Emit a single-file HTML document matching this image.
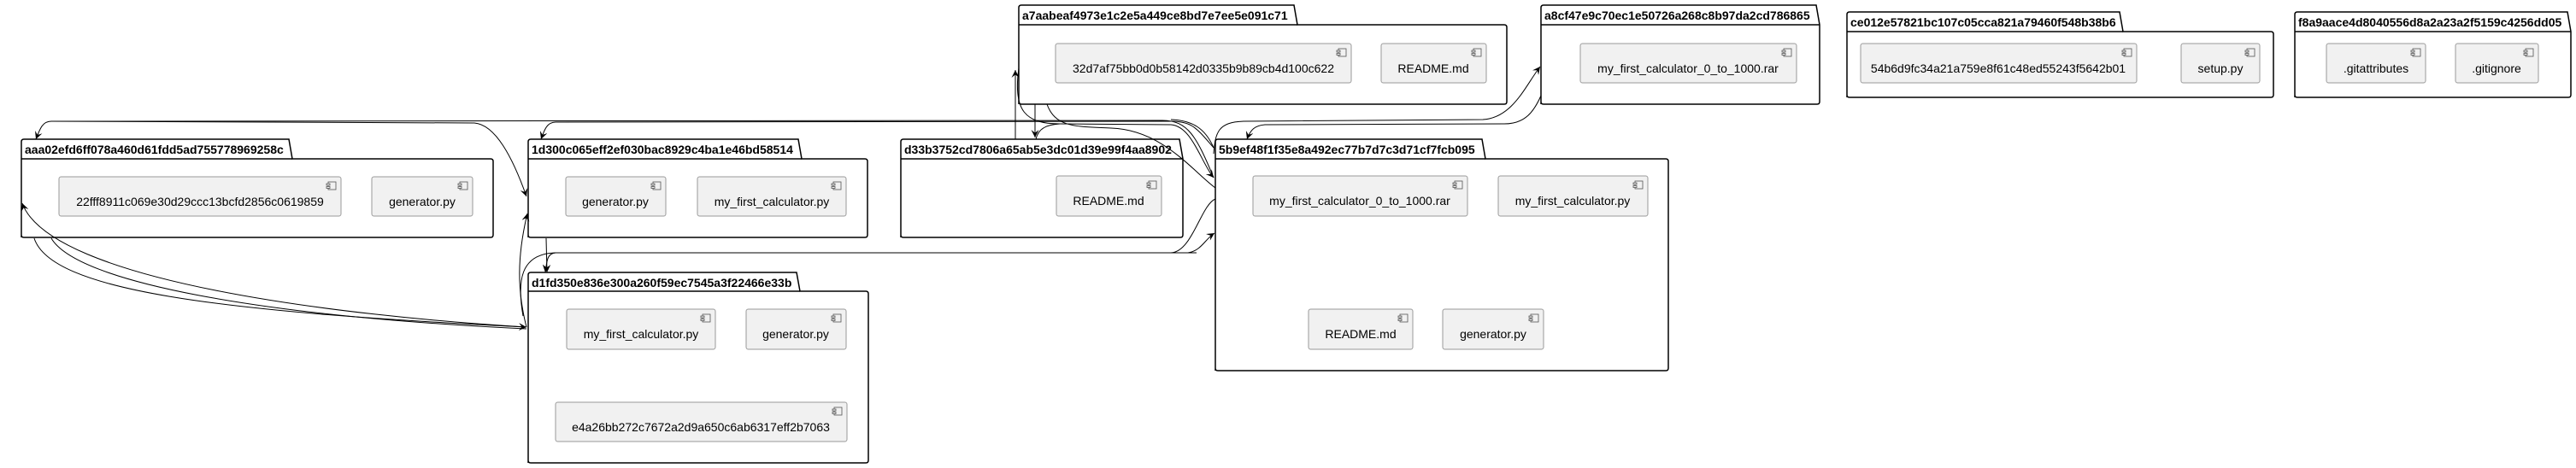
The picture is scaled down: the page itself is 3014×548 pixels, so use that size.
<!DOCTYPE html>
<html><head><meta charset="utf-8"><style>
html,body{margin:0;padding:0;background:#fff;}
svg{display:block;}
.t{font-family:"Liberation Sans",sans-serif;font-size:14px;font-weight:bold;fill:#000;}
.c{font-family:"Liberation Sans",sans-serif;font-size:14px;fill:#000;text-anchor:middle;}
.pk{fill:#fff;stroke:#000;stroke-width:1.5;}
.cm{fill:#f1f1f1;stroke:#999;stroke-width:1;}
.ic{fill:#f1f1f1;stroke:#555;stroke-width:0.8;}
.e{fill:none;stroke:#000;stroke-width:1;}
</style></head><body>
<svg width="3014" height="548" viewBox="0 0 3014 548" xmlns="http://www.w3.org/2000/svg">
<defs>
<marker id="a" viewBox="0 0 10 10" refX="10" refY="5" markerWidth="9" markerHeight="9" orient="auto" markerUnits="userSpaceOnUse">
<path d="M0,0 L10,5 L0,10 L4,5 Z" fill="#000"/>
</marker>
</defs>

<!-- packages -->
<g id="pkgs">
<!-- aaa -->
<path class="pk" d="M25,278 L25,166 Q25,163 28,163 L338,163 L342,186 L574,186 Q577,186 577,189 L577,275 Q577,278 574,278 L28,278 Q25,278 25,275 Z"/>
<line class="pk" x1="25" y1="186" x2="342" y2="186"/>
<text class="t" x="29" y="180">aaa02efd6ff078a460d61fdd5ad755778969258c</text>
<!-- 1d300 -->
<path class="pk" d="M618,278 L618,166 Q618,163 621,163 L934,163 L938,186 L1012,186 Q1015,186 1015,189 L1015,275 Q1015,278 1012,278 L621,278 Q618,278 618,275 Z"/>
<line class="pk" x1="618" y1="186" x2="938" y2="186"/>
<text class="t" x="622" y="180">1d300c065eff2ef030bac8929c4ba1e46bd58514</text>
<!-- d1fd -->
<path class="pk" d="M618,542 L618,322 Q618,319 621,319 L932,319 L936,341 L1013,341 Q1016,341 1016,344 L1016,539 Q1016,542 1013,542 L621,542 Q618,542 618,539 Z"/>
<line class="pk" x1="618" y1="341" x2="936" y2="341"/>
<text class="t" x="622" y="336">d1fd350e836e300a260f59ec7545a3f22466e33b</text>
<!-- a7aa -->
<path class="pk" d="M1192,122 L1192,9 Q1192,6 1195,6 L1514,6 L1518,29 L1760,29 Q1763,29 1763,32 L1763,119 Q1763,122 1760,122 L1195,122 Q1192,122 1192,119 Z"/>
<line class="pk" x1="1192" y1="29" x2="1518" y2="29"/>
<text class="t" x="1196" y="23">a7aabeaf4973e1c2e5a449ce8bd7e7ee5e091c71</text>
<!-- a8cf -->
<path class="pk" d="M1803,122 L1803,9 Q1803,6 1806,6 L2125,6 L2129,29 L2129,119 Q2129,122 2126,122 L1806,122 Q1803,122 1803,119 Z"/>
<line class="pk" x1="1803" y1="29" x2="2129" y2="29"/>
<text class="t" x="1807" y="23">a8cf47e9c70ec1e50726a268c8b97da2cd786865</text>
<!-- ce01 -->
<path class="pk" d="M2161,114 L2161,17 Q2161,14 2164,14 L2480,14 L2484,37 L2657,37 Q2660,37 2660,40 L2660,111 Q2660,114 2657,114 L2164,114 Q2161,114 2161,111 Z"/>
<line class="pk" x1="2161" y1="37" x2="2484" y2="37"/>
<text class="t" x="2165" y="31">ce012e57821bc107c05cca821a79460f548b38b6</text>
<!-- f8a9 -->
<path class="pk" d="M2685,114 L2685,17 Q2685,14 2688,14 L3004,14 L3008,37 L3008,111 Q3008,114 3005,114 L2688,114 Q2685,114 2685,111 Z"/>
<line class="pk" x1="2685" y1="37" x2="3008" y2="37"/>
<text class="t" x="2689" y="31">f8a9aace4d8040556d8a2a23a2f5159c4256dd05</text>
<!-- d33b -->
<path class="pk" d="M1054,278 L1054,166 Q1054,163 1057,163 L1380,163 L1384,186 L1384,275 Q1384,278 1381,278 L1057,278 Q1054,278 1054,275 Z"/>
<line class="pk" x1="1054" y1="186" x2="1384" y2="186"/>
<text class="t" x="1058" y="180">d33b3752cd7806a65ab5e3dc01d39e99f4aa8902</text>
<!-- 5b9e -->
<path class="pk" d="M1422,434 L1422,166 Q1422,163 1425,163 L1734,163 L1738,186 L1949,186 Q1952,186 1952,189 L1952,431 Q1952,434 1949,434 L1425,434 Q1422,434 1422,431 Z"/>
<line class="pk" x1="1422" y1="186" x2="1738" y2="186"/>
<text class="t" x="1426" y="180">5b9ef48f1f35e8a492ec77b7d7c3d71cf7fcb095</text>
</g>

<!-- components -->
<g id="comps">
<!-- helper pattern: rect + icon + text -->
<g><rect class="cm" x="69" y="207" width="330" height="46" rx="2.5"/><rect class="ic" x="384" y="213" width="9" height="9"/><rect class="ic" x="382" y="215" width="4" height="2"/><rect class="ic" x="382" y="218.5" width="4" height="2"/><text class="c" x="234" y="241">22fff8911c069e30d29ccc13bcfd2856c0619859</text></g>
<g><rect class="cm" x="435" y="207" width="118" height="46" rx="2.5"/><rect class="ic" x="538" y="213" width="9" height="9"/><rect class="ic" x="536" y="215" width="4" height="2"/><rect class="ic" x="536" y="218.5" width="4" height="2"/><text class="c" x="494" y="241">generator.py</text></g>

<g><rect class="cm" x="662" y="207" width="117" height="46" rx="2.5"/><rect class="ic" x="764" y="213" width="9" height="9"/><rect class="ic" x="762" y="215" width="4" height="2"/><rect class="ic" x="762" y="218.5" width="4" height="2"/><text class="c" x="720" y="241">generator.py</text></g>
<g><rect class="cm" x="816" y="207" width="174" height="46" rx="2.5"/><rect class="ic" x="975" y="213" width="9" height="9"/><rect class="ic" x="973" y="215" width="4" height="2"/><rect class="ic" x="973" y="218.5" width="4" height="2"/><text class="c" x="903" y="241">my_first_calculator.py</text></g>

<g><rect class="cm" x="663" y="362" width="174" height="47" rx="2.5"/><rect class="ic" x="822" y="368" width="9" height="9"/><rect class="ic" x="820" y="370" width="4" height="2"/><rect class="ic" x="820" y="373.5" width="4" height="2"/><text class="c" x="750" y="396">my_first_calculator.py</text></g>
<g><rect class="cm" x="873" y="362" width="117" height="47" rx="2.5"/><rect class="ic" x="975" y="368" width="9" height="9"/><rect class="ic" x="973" y="370" width="4" height="2"/><rect class="ic" x="973" y="373.5" width="4" height="2"/><text class="c" x="931" y="396">generator.py</text></g>
<g><rect class="cm" x="650" y="471" width="341" height="46" rx="2.5"/><rect class="ic" x="976" y="477" width="9" height="9"/><rect class="ic" x="974" y="479" width="4" height="2"/><rect class="ic" x="974" y="482.5" width="4" height="2"/><text class="c" x="820" y="505">e4a26bb272c7672a2d9a650c6ab6317eff2b7063</text></g>

<g><rect class="cm" x="1235" y="51" width="346" height="46" rx="2.5"/><rect class="ic" x="1566" y="57" width="9" height="9"/><rect class="ic" x="1564" y="59" width="4" height="2"/><rect class="ic" x="1564" y="62.5" width="4" height="2"/><text class="c" x="1408" y="85">32d7af75bb0d0b58142d0335b9b89cb4d100c622</text></g>
<g><rect class="cm" x="1616" y="51" width="123" height="46" rx="2.5"/><rect class="ic" x="1724" y="57" width="9" height="9"/><rect class="ic" x="1722" y="59" width="4" height="2"/><rect class="ic" x="1722" y="62.5" width="4" height="2"/><text class="c" x="1677" y="85">README.md</text></g>

<g><rect class="cm" x="1849" y="51" width="253" height="46" rx="2.5"/><rect class="ic" x="2087" y="57" width="9" height="9"/><rect class="ic" x="2085" y="59" width="4" height="2"/><rect class="ic" x="2085" y="62.5" width="4" height="2"/><text class="c" x="1975" y="85">my_first_calculator_0_to_1000.rar</text></g>

<g><rect class="cm" x="2177" y="51" width="323" height="46" rx="2.5"/><rect class="ic" x="2485" y="57" width="9" height="9"/><rect class="ic" x="2483" y="59" width="4" height="2"/><rect class="ic" x="2483" y="62.5" width="4" height="2"/><text class="c" x="2338" y="85">54b6d9fc34a21a759e8f61c48ed55243f5642b01</text></g>
<g><rect class="cm" x="2552" y="51" width="92" height="46" rx="2.5"/><rect class="ic" x="2629" y="57" width="9" height="9"/><rect class="ic" x="2627" y="59" width="4" height="2"/><rect class="ic" x="2627" y="62.5" width="4" height="2"/><text class="c" x="2598" y="85">setup.py</text></g>

<g><rect class="cm" x="2722" y="51" width="116" height="46" rx="2.5"/><rect class="ic" x="2823" y="57" width="9" height="9"/><rect class="ic" x="2821" y="59" width="4" height="2"/><rect class="ic" x="2821" y="62.5" width="4" height="2"/><text class="c" x="2780" y="85">.gitattributes</text></g>
<g><rect class="cm" x="2873" y="51" width="97" height="46" rx="2.5"/><rect class="ic" x="2955" y="57" width="9" height="9"/><rect class="ic" x="2953" y="59" width="4" height="2"/><rect class="ic" x="2953" y="62.5" width="4" height="2"/><text class="c" x="2921" y="85">.gitignore</text></g>

<g><rect class="cm" x="1236" y="206" width="123" height="47" rx="2.5"/><rect class="ic" x="1344" y="212" width="9" height="9"/><rect class="ic" x="1342" y="214" width="4" height="2"/><rect class="ic" x="1342" y="217.5" width="4" height="2"/><text class="c" x="1297" y="240">README.md</text></g>

<g><rect class="cm" x="1466" y="206" width="251" height="47" rx="2.5"/><rect class="ic" x="1702" y="212" width="9" height="9"/><rect class="ic" x="1700" y="214" width="4" height="2"/><rect class="ic" x="1700" y="217.5" width="4" height="2"/><text class="c" x="1591" y="240">my_first_calculator_0_to_1000.rar</text></g>
<g><rect class="cm" x="1753" y="206" width="175" height="47" rx="2.5"/><rect class="ic" x="1913" y="212" width="9" height="9"/><rect class="ic" x="1911" y="214" width="4" height="2"/><rect class="ic" x="1911" y="217.5" width="4" height="2"/><text class="c" x="1840" y="240">my_first_calculator.py</text></g>
<g><rect class="cm" x="1531" y="362" width="122" height="47" rx="2.5"/><rect class="ic" x="1638" y="368" width="9" height="9"/><rect class="ic" x="1636" y="370" width="4" height="2"/><rect class="ic" x="1636" y="373.5" width="4" height="2"/><text class="c" x="1592" y="396">README.md</text></g>
<g><rect class="cm" x="1688" y="362" width="118" height="47" rx="2.5"/><rect class="ic" x="1791" y="368" width="9" height="9"/><rect class="ic" x="1789" y="370" width="4" height="2"/><rect class="ic" x="1789" y="373.5" width="4" height="2"/><text class="c" x="1747" y="396">generator.py</text></g>
</g>

<!-- edges -->
<g>
<!-- long top line into aaa -->
<path class="e" d="M1420,208 C1400,160 1390,141 1360,141 L60,142 C50,142 47,150 42,163" marker-end="url(#a)"/>
<!-- into 1d300 tab -->
<path class="e" d="M1420,173 C1400,150 1395,142 1370,142 L650,143 C640,143 637,152 633,163" marker-end="url(#a)"/>
<!-- aaa top to 1d300 left -->
<path class="e" d="M60,142 L555,144 C580,146 600,185 616,230" marker-end="url(#a)"/>
<!-- aaa bottom to d1fd left (two) -->
<path class="e" d="M40,279 C60,340 250,365 616,383" marker-end="url(#a)"/>
<path class="e" d="M60,279 C90,330 300,370 616,385"/>
<!-- d1fd left back to aaa left -->
<path class="e" d="M616,383 C400,370 60,330 26,238" marker-end="url(#a)"/>
<!-- 1d300 bottom to d1fd tab -->
<path class="e" d="M639,279 L640,319" marker-end="url(#a)"/>
<!-- d1fd left up to 1d300 left -->
<path class="e" d="M616,383 C605,340 605,300 617,250" marker-end="url(#a)"/>
<!-- bottom lines from d1fd top to 5b9e -->
<path class="e" d="M612,370 C605,330 608,297 650,296 L1370,296 C1395,295 1405,240 1422,233"/>
<path class="e" d="M1370,296 L1390,296 C1405,294 1410,280 1421,273" marker-end="url(#a)"/>
<path class="e" d="M1400,296 L650,296 C640,297 640,305 638,319" marker-end="url(#a)"/>
<!-- a7aa related -->
<path class="e" d="M1188,163 L1188,82" marker-end="url(#a)"/>
<path class="e" d="M1211,122 L1211,161" marker-end="url(#a)"/>
<path class="e" d="M1192,80 C1185,130 1200,145 1240,145 L1370,146 C1395,148 1405,190 1420,208" marker-end="url(#a)"/>
<path class="e" d="M1225,122 C1235,150 1260,148 1300,150 C1360,152 1395,200 1422,220"/>
<path class="e" d="M1370,140 C1395,141 1410,150 1420,173"/>
<path class="e" d="M1240,145 C1225,146 1215,150 1212,163"/>
<!-- a8cf -->
<path class="e" d="M1420,180 C1422,155 1425,143 1455,142 L1735,140 C1770,138 1785,100 1802,78" marker-end="url(#a)"/>
<path class="e" d="M1803,112 C1795,130 1785,145 1760,145 L1480,146 C1468,147 1463,152 1459,163" marker-end="url(#a)"/>
</g>
</svg>
</body></html>
